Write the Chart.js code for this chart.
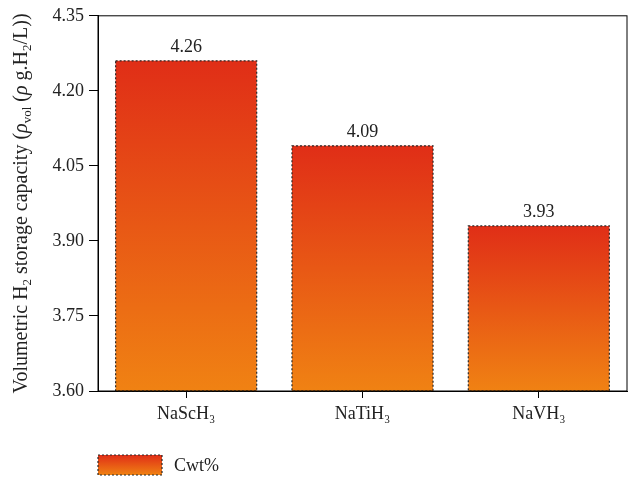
<!DOCTYPE html>
<html>
<head>
<meta charset="utf-8">
<script src="https://cdn.jsdelivr.net/npm/chart.js@4.4.0/dist/chart.umd.min.js"></script>
<style>
  html, body { margin: 0; padding: 0; background: #fff; }
  #wrap { width: 638px; height: 481px; }
</style>
</head>
<body>
<div id="wrap"><canvas id="myChart"></canvas></div>
<script>
const categories = ["NaScH₃", "NaTiH₃", "NaVH₃"];
const capacity = [4.26, 4.09, 3.93];
const seriesName = "Cwt%";
const yTicks = [3.6, 3.75, 3.9, 4.05, 4.2, 4.35];
// y title pieces: [text, kind]  n = normal, i = italic, s = subscript
const yTitle = [
  ["Volumetric H", "n"], ["2", "s"], [" storage capacity (", "n"],
  ["ρ", "i"], ["vol", "s"], [" (", "n"], ["ρ", "i"], [" g.H", "n"],
  ["2", "s"], ["/L))", "n"]
];

const topColor = "#e02e17";
const bottomColor = "#f08213";
const serif = "'Liberation Serif', 'DejaVu Serif', serif";
const fontSize = 18;
const titleSize = 20;

function barGradient(ctx, top, bottom) {
  const g = ctx.createLinearGradient(0, top, 0, bottom);
  g.addColorStop(0, topColor);
  g.addColorStop(1, bottomColor);
  return g;
}

function pieceFont(kind) {
  if (kind === "s") return Math.round(titleSize * 0.65) + "px " + serif;
  if (kind === "i") return "italic " + titleSize + "px " + serif;
  return titleSize + "px " + serif;
}

// dashed outline, value labels, box frame, y title and the legend
const extras = {
  id: "extras",
  afterDatasetsDraw(chart) {
    const c = chart.ctx;
    const a = chart.chartArea;
    const meta = chart.getDatasetMeta(0);
    c.save();
    c.strokeStyle = "#2a2a2a";
    c.lineWidth = 1.2;
    c.setLineDash([2, 2]);
    meta.data.forEach((bar) => {
      const w = bar.width;
      const base = Math.min(bar.base, a.bottom);
      c.strokeRect(bar.x - w / 2, bar.y, w, base - bar.y);
    });
    c.setLineDash([]);
    c.fillStyle = "#222";
    c.font = fontSize + "px " + serif;
    c.textAlign = "center";
    c.textBaseline = "bottom";
    meta.data.forEach((bar, i) => {
      c.fillText(capacity[i].toFixed(2), bar.x, bar.y - 5);
    });
    c.strokeStyle = "#000";
    c.lineWidth = 1;
    c.strokeRect(a.left, a.top, a.right - a.left, a.bottom - a.top);
    c.restore();
  },
  afterDraw(chart) {
    const c = chart.ctx;
    const a = chart.chartArea;
    c.save();
    // rotated y title
    let total = 0;
    yTitle.forEach(([t, k]) => { c.font = pieceFont(k); total += c.measureText(t).width; });
    c.translate(27, (a.top + a.bottom) / 2);
    c.rotate(-Math.PI / 2);
    c.fillStyle = "#222";
    c.textBaseline = "alphabetic";
    c.textAlign = "left";
    let px = -total / 2;
    yTitle.forEach(([t, k]) => {
      c.font = pieceFont(k);
      c.fillText(t, px, k === "s" ? 4 : 0);
      px += c.measureText(t).width;
    });
    c.restore();

    // legend
    const x = 98, y = 455, w = 64, h = 20;
    c.save();
    c.fillStyle = barGradient(c, y, y + h);
    c.fillRect(x, y, w, h);
    c.strokeStyle = "#2a2a2a";
    c.lineWidth = 1.2;
    c.setLineDash([2, 2]);
    c.strokeRect(x, y, w, h);
    c.setLineDash([]);
    c.fillStyle = "#222";
    c.font = fontSize + "px " + serif;
    c.textBaseline = "middle";
    c.fillText(seriesName, x + w + 12, y + h / 2 + 1);
    c.restore();
  }
};

const ctx = document.getElementById("myChart");
const myChart = new Chart(ctx, {
  type: "bar",
  data: {
    labels: categories,
    datasets: [{
      label: seriesName,
      data: capacity,
      backgroundColor: function (context) {
        const chart = context.chart;
        const ys = chart.scales.y;
        if (!ys || context.raw === undefined) return topColor;
        const top = ys.getPixelForValue(context.raw);
        const bottom = ys.getPixelForValue(yTicks[0]);
        if (!isFinite(top) || !isFinite(bottom) || top === bottom) return topColor;
        return barGradient(chart.ctx, top, bottom);
      },
      borderWidth: 0,
      barPercentage: 0.8,
      categoryPercentage: 1.0
    }]
  },
  options: {
    responsive: true,
    maintainAspectRatio: false,
    animation: false,
    layout: { padding: { left: 0, right: 11, top: 15, bottom: 52 } },
    plugins: {
      legend: { display: false },
      tooltip: { enabled: false }
    },
    scales: {
      x: {
        grid: { offset: false, drawOnChartArea: false, tickLength: 7, color: "#000" },
        border: { color: "#000" },
        ticks: { color: "#222", font: { family: serif, size: fontSize }, padding: 5 },
        afterFit: (scale) => { scale.height = 38; }
      },
      y: {
        min: 3.6,
        max: 4.35,
        afterBuildTicks: (scale) => { scale.ticks = yTicks.map((v) => ({ value: v })); },
        grid: { drawOnChartArea: false, tickLength: 9, color: "#000" },
        border: { color: "#000" },
        ticks: {
          color: "#222",
          font: { family: serif, size: fontSize },
          padding: 5,
          callback: (v) => Number(v).toFixed(2)
        },
        afterFit: (scale) => { scale.width = 98; }
      }
    }
  },
  plugins: [extras]
});
</script>
</body>
</html>
